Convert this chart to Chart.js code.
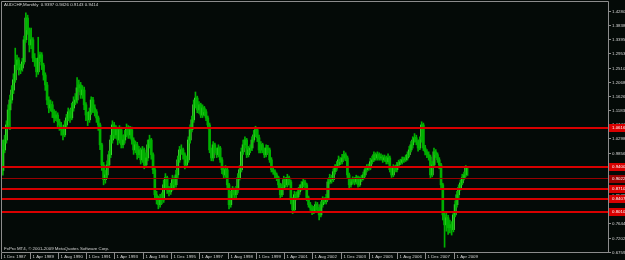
<!DOCTYPE html>
<html>
<head>
<meta charset="utf-8">
<script src="https://cdn.jsdelivr.net/npm/chart.js@4/dist/chart.umd.min.js"></script>
<style>
html, body { margin: 0; padding: 0; background: #040a07; }
#wrap { width: 625px; height: 260px; }
</style>
</head>
<body>
<div id="wrap"><canvas id="grafico" width="625" height="260"></canvas></div>
<script>
// AUDCHF mensual, velas desde Dic 1987
const titulo = 'AUDCHF,Monthly  0.9397 0.9426 0.9143 0.9414';
const copyright = 'FxPro MT4, © 2001-2009 MetaQuotes Software Corp.';

const totalMeses = 343;       // huecos del eje x (con espacio vacio a la derecha)
const pasoFecha = 16;         // una etiqueta cada 16 meses
const etiquetasFecha = ['1 Dec 1987', '1 Apr 1989', '1 Aug 1990', '1 Dec 1991', '1 Apr 1993', '1 Aug 1994',
  '1 Dec 1995', '1 Apr 1997', '1 Aug 1998', '1 Dec 1999', '1 Apr 2001', '1 Aug 2002', '1 Dec 2003',
  '1 Apr 2005', '1 Aug 2006', '1 Dec 2007', '1 Apr 2009'];

const preciosEje = ['1.4280', '1.3838', '1.3395', '1.2953', '1.2510', '1.2068', '1.1626', '1.1183', '1.0741',
  '1.0298', '0.9856', '0.9414', '0.8971', '0.8529', '0.8086', '0.7644', '0.7202', '0.6759'];

const niveles = [1.0616, 0.9400, 0.9022, 0.8710, 0.8407, 0.8010];

const aperturaInicial = 0.930;
const cierres = [
  0.994, 1.025, 1.072, 1.119, 1.150, 1.181, 1.213, 1.259, 1.275, 1.244,
  1.250, 1.269, 1.338, 1.406, 1.369, 1.322, 1.338, 1.281, 1.269, 1.238,
  1.281, 1.291, 1.259, 1.228, 1.197, 1.150, 1.125, 1.135, 1.113, 1.094,
  1.103, 1.082, 1.072, 1.057, 1.041, 1.072, 1.094, 1.113, 1.094, 1.125,
  1.144, 1.150, 1.188, 1.197, 1.166, 1.181, 1.135, 1.103, 1.088, 1.113,
  1.150, 1.125, 1.113, 1.094, 1.072, 1.010, 0.947, 0.901, 0.916, 0.947,
  0.979, 1.025, 1.072, 1.041, 1.057, 1.025, 1.057, 1.010, 1.025, 1.041,
  1.063, 1.041, 1.057, 1.025, 0.994, 1.010, 0.979, 0.994, 0.963, 0.994,
  0.947, 0.969, 1.010, 1.025, 0.979, 0.932, 0.854, 0.838, 0.823, 0.844,
  0.838, 0.885, 0.907, 0.869, 0.863, 0.876, 0.901, 0.885, 0.916, 0.963,
  0.994, 0.994, 0.979, 0.947, 0.963, 1.025, 1.057, 1.088, 1.135, 1.156,
  1.119, 1.135, 1.103, 1.125, 1.113, 1.094, 1.072, 0.994, 0.969, 1.010,
  0.994, 0.979, 1.000, 0.963, 0.932, 0.916, 0.932, 0.885, 0.823, 0.854,
  0.869, 0.854, 0.869, 0.907, 0.932, 0.988, 1.010, 1.025, 0.979, 0.994,
  1.000, 1.025, 1.041, 1.057, 1.032, 0.994, 1.010, 0.994, 0.979, 1.000,
  0.994, 0.963, 0.932, 0.926, 0.916, 0.907, 0.885, 0.854, 0.876, 0.901,
  0.885, 0.907, 0.894, 0.838, 0.807, 0.854, 0.847, 0.863, 0.876, 0.885,
  0.894, 0.885, 0.844, 0.823, 0.813, 0.801, 0.807, 0.823, 0.807, 0.791,
  0.823, 0.838, 0.832, 0.844, 0.894, 0.907, 0.901, 0.926, 0.938, 0.947,
  0.963, 0.957, 0.969, 0.979, 0.969, 0.916, 0.885, 0.894, 0.901, 0.894,
  0.907, 0.885, 0.901, 0.907, 0.916, 0.932, 0.938, 0.938, 0.957, 0.963,
  0.979, 0.969, 0.979, 0.969, 0.972, 0.963, 0.969, 0.957, 0.969, 0.932,
  0.916, 0.938, 0.932, 0.947, 0.954, 0.957, 0.963, 0.963, 0.969, 0.979,
  0.994, 1.010, 1.025, 1.032, 1.019, 1.000, 1.025, 1.072, 1.000, 0.988,
  0.979, 0.972, 0.916, 0.947, 0.988, 0.979, 0.963, 0.947, 0.885, 0.791,
  0.760, 0.782, 0.751, 0.760, 0.745, 0.791, 0.823, 0.854, 0.876, 0.891,
  0.907, 0.916, 0.940, 0.9414
];
const maximos = [
  1.025, 1.040, 1.085, 1.135, 1.165, 1.195, 1.232, 1.312, 1.290, 1.282,
  1.262, 1.280, 1.350, 1.422, 1.415, 1.375, 1.375, 1.345, 1.295, 1.280,
  1.346, 1.300, 1.298, 1.265, 1.235, 1.205, 1.160, 1.150, 1.145, 1.120,
  1.115, 1.110, 1.090, 1.080, 1.065, 1.085, 1.105, 1.125, 1.120, 1.140,
  1.160, 1.170, 1.220, 1.212, 1.205, 1.195, 1.190, 1.142, 1.112, 1.125,
  1.160, 1.158, 1.135, 1.120, 1.100, 1.078, 1.015, 0.955, 0.930, 0.960,
  0.990, 1.040, 1.085, 1.080, 1.070, 1.065, 1.070, 1.065, 1.040, 1.055,
  1.075, 1.070, 1.068, 1.065, 1.032, 1.022, 1.018, 1.005, 1.000, 1.005,
  1.000, 0.985, 1.025, 1.040, 1.030, 0.985, 0.940, 0.865, 0.850, 0.855,
  0.860, 0.900, 0.920, 0.912, 0.880, 0.890, 0.915, 0.910, 0.930, 0.975,
  1.005, 1.010, 1.000, 0.985, 0.975, 1.035, 1.072, 1.100, 1.150, 1.175,
  1.162, 1.145, 1.140, 1.135, 1.130, 1.120, 1.100, 1.078, 1.000, 1.020,
  1.015, 1.000, 1.010, 1.005, 0.970, 0.940, 0.945, 0.938, 0.890, 0.865,
  0.880, 0.875, 0.880, 0.920, 0.945, 1.000, 1.025, 1.035, 1.030, 1.005,
  1.010, 1.035, 1.055, 1.068, 1.062, 1.040, 1.020, 1.015, 1.000, 1.010,
  1.008, 1.000, 0.970, 0.940, 0.932, 0.922, 0.912, 0.890, 0.888, 0.912,
  0.908, 0.918, 0.912, 0.900, 0.845, 0.865, 0.862, 0.875, 0.885, 0.895,
  0.905, 0.900, 0.890, 0.850, 0.830, 0.820, 0.818, 0.832, 0.830, 0.815,
  0.832, 0.848, 0.845, 0.855, 0.905, 0.918, 0.915, 0.935, 0.948, 0.958,
  0.975, 0.970, 0.980, 0.990, 0.985, 0.975, 0.922, 0.905, 0.910, 0.908,
  0.915, 0.912, 0.910, 0.915, 0.925, 0.940, 0.948, 0.950, 0.968, 0.975,
  0.988, 0.985, 0.988, 0.985, 0.982, 0.978, 0.978, 0.975, 0.982, 0.975,
  0.940, 0.948, 0.945, 0.955, 0.962, 0.965, 0.972, 0.972, 0.978, 0.988,
  1.005, 1.020, 1.035, 1.045, 1.040, 1.025, 1.035, 1.082, 1.078, 1.008,
  0.995, 0.988, 0.978, 0.958, 1.000, 0.995, 0.985, 0.970, 0.952, 0.890,
  0.800, 0.800, 0.790, 0.775, 0.770, 0.800, 0.835, 0.865, 0.885, 0.900,
  0.918, 0.925, 0.945, 0.9426
];
const minimos = [
  0.915, 0.985, 1.015, 1.060, 1.057, 1.140, 1.170, 1.205, 1.245, 1.228,
  1.232, 1.240, 1.262, 1.330, 1.355, 1.300, 1.310, 1.270, 1.255, 1.222,
  1.230, 1.270, 1.245, 1.212, 1.180, 1.135, 1.110, 1.115, 1.095, 1.080,
  1.085, 1.065, 1.055, 1.040, 1.025, 1.035, 1.062, 1.085, 1.080, 1.088,
  1.115, 1.135, 1.140, 1.175, 1.155, 1.155, 1.120, 1.085, 1.070, 1.080,
  1.105, 1.110, 1.100, 1.080, 1.055, 0.995, 0.930, 0.885, 0.890, 0.905,
  0.940, 0.970, 1.015, 1.030, 1.030, 1.010, 1.015, 1.000, 1.000, 1.015,
  1.035, 1.030, 1.030, 1.012, 0.980, 0.985, 0.965, 0.970, 0.950, 0.955,
  0.935, 0.940, 0.960, 1.000, 0.965, 0.920, 0.840, 0.825, 0.810, 0.815,
  0.825, 0.830, 0.875, 0.858, 0.850, 0.855, 0.868, 0.875, 0.878, 0.905,
  0.955, 0.980, 0.965, 0.935, 0.940, 0.955, 1.015, 1.050, 1.080, 1.125,
  1.110, 1.108, 1.095, 1.095, 1.100, 1.085, 1.060, 0.985, 0.960, 0.960,
  0.985, 0.970, 0.972, 0.955, 0.920, 0.905, 0.908, 0.875, 0.810, 0.815,
  0.845, 0.845, 0.845, 0.860, 0.900, 0.925, 0.980, 1.000, 0.970, 0.972,
  0.985, 0.992, 1.018, 1.035, 1.020, 0.985, 0.985, 0.985, 0.970, 0.972,
  0.985, 0.955, 0.925, 0.918, 0.905, 0.898, 0.875, 0.840, 0.848, 0.870,
  0.878, 0.878, 0.885, 0.825, 0.795, 0.800, 0.838, 0.840, 0.855, 0.868,
  0.878, 0.875, 0.835, 0.815, 0.805, 0.792, 0.795, 0.800, 0.798, 0.775,
  0.785, 0.815, 0.825, 0.825, 0.838, 0.888, 0.890, 0.895, 0.918, 0.930,
  0.940, 0.948, 0.950, 0.962, 0.960, 0.905, 0.875, 0.878, 0.888, 0.885,
  0.888, 0.878, 0.880, 0.895, 0.900, 0.910, 0.925, 0.930, 0.932, 0.950,
  0.958, 0.962, 0.962, 0.962, 0.962, 0.955, 0.958, 0.950, 0.950, 0.925,
  0.908, 0.910, 0.925, 0.925, 0.940, 0.948, 0.950, 0.955, 0.958, 0.962,
  0.972, 0.988, 1.000, 1.018, 1.010, 0.990, 0.995, 1.018, 0.992, 0.978,
  0.970, 0.962, 0.905, 0.910, 0.940, 0.970, 0.955, 0.935, 0.870, 0.775,
  0.690, 0.740, 0.730, 0.735, 0.728, 0.738, 0.785, 0.815, 0.845, 0.868,
  0.885, 0.900, 0.910, 0.9143
];

const colores = {
  fondo: '#040a07',
  alcista: '#74ff58',
  bajista: '#00b000',
  mecha: '#00b000',
  marco: '#8c8c8c',
  texto: '#d4d4d4',
  nivel: '#d80000',
  nivelOscuro: '#9a0000'
};
const fuente = '4.4px "Liberation Sans", Arial, sans-serif';

// apertura de cada mes = cierre del mes anterior
const aperturas = [aperturaInicial].concat(cierres.slice(0, -1));
const meses = Array.from({ length: totalMeses }, (_, i) => i);
const cuerpos = cierres.map((c, i) => [aperturas[i], c]);
const mechas = maximos.map((h, i) => [minimos[i], h]);
const colorVela = cierres.map((c, i) => c >= aperturas[i] ? colores.alcista : colores.bajista);

const dibujoMT4 = {
  id: 'dibujoMT4',
  beforeDraw(chart) {
    const ctx = chart.ctx;
    ctx.save();
    ctx.fillStyle = colores.fondo;
    ctx.fillRect(0, 0, chart.width, chart.height);
    ctx.restore();
  },
  afterDatasetsDraw(chart) {
    const { ctx, chartArea, scales: { y } } = chart;
    ctx.save();
    niveles.forEach((nivel, k) => {
      const py = Math.round(y.getPixelForValue(nivel));
      ctx.fillStyle = k === 2 ? colores.nivelOscuro : colores.nivel;
      ctx.fillRect(chartArea.left, py - 1, chartArea.right - chartArea.left, k === 2 ? 1 : 2);
    });
    ctx.restore();
  },
  afterDraw(chart) {
    const { ctx, chartArea, scales: { x, y } } = chart;
    ctx.save();
    // marco
    ctx.strokeStyle = colores.marco;
    ctx.lineWidth = 1;
    ctx.beginPath();
    ctx.moveTo(1.5, 252.5); ctx.lineTo(1.5, 1.5); ctx.lineTo(chartArea.right + 0.5, 1.5);
    ctx.lineTo(chartArea.right + 0.5, chartArea.bottom + 0.5); ctx.lineTo(1.5, chartArea.bottom + 0.5);
    ctx.stroke();

    ctx.font = fuente;
    ctx.textBaseline = 'middle';
    ctx.textAlign = 'left';

    // eje de precios
    preciosEje.forEach(p => {
      const py = Math.round(y.getPixelForValue(parseFloat(p))) + 0.5;
      ctx.beginPath();
      ctx.moveTo(chartArea.right, py); ctx.lineTo(chartArea.right + 3, py);
      ctx.stroke();
      ctx.fillStyle = colores.texto;
      ctx.fillText(p, chartArea.right + 4, py);
    });

    // etiquetas rojas de los niveles
    niveles.forEach((nivel, k) => {
      const py = Math.round(y.getPixelForValue(nivel));
      ctx.fillStyle = k === 2 ? colores.nivelOscuro : colores.nivel;
      ctx.fillRect(chartArea.right + 1, py - 4, 625 - chartArea.right - 1, 8);
      ctx.fillStyle = '#ffffff';
      ctx.fillText(nivel.toFixed(4), chartArea.right + 4, py);
    });

    // eje de fechas
    etiquetasFecha.forEach((f, k) => {
      const px = Math.round(x.getPixelForValue(k * pasoFecha) - 1.5) + 0.5;
      ctx.strokeStyle = colores.marco;
      ctx.beginPath();
      ctx.moveTo(px, chartArea.bottom + 1); ctx.lineTo(px, chartArea.bottom + 7);
      ctx.stroke();
      ctx.fillStyle = colores.texto;
      ctx.fillText(f, px + 2, chartArea.bottom + 4.5);
    });

    ctx.fillStyle = colores.texto;
    ctx.fillText(titulo, 4, 5);
    ctx.fillText(copyright, 4, 248.5);
    ctx.restore();
  }
};

const ctx = document.getElementById('grafico').getContext('2d');
const grafico = new Chart(ctx, {
  type: 'bar',
  data: {
    labels: meses,
    datasets: [
      {
        data: mechas,
        backgroundColor: colores.mecha,
        barThickness: 1,
        grouped: false,
        borderWidth: 0
      },
      {
        data: cuerpos,
        backgroundColor: colorVela,
        barThickness: 2,
        grouped: false,
        borderWidth: 0
      }
    ]
  },
  options: {
    responsive: false,
    animation: false,
    devicePixelRatio: 1,
    layout: { padding: { left: 2, top: 2, right: 17, bottom: 8 } },
    plugins: {
      legend: { display: false },
      tooltip: { enabled: false }
    },
    scales: {
      x: { display: false, offset: true },
      y: { display: false, min: 0.6751, max: 1.4561 }
    }
  },
  plugins: [dibujoMT4]
});
</script>
</body>
</html>
